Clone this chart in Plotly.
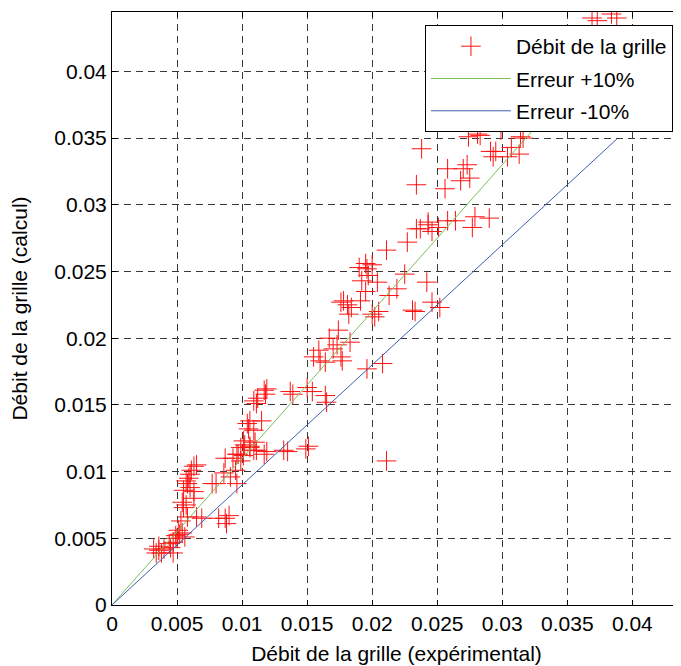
import plotly.graph_objects as go

# Experimental grid flow (x) and calculated grid flow (y)
x_exp = [
    0.0032, 0.0036, 0.0038, 0.0034, 0.0040, 0.0045, 0.0047, 0.0049, 0.0051, 0.0054,
    0.0056, 0.0047, 0.0044, 0.0053, 0.0058, 0.0065, 0.0069, 0.0082, 0.0087, 0.0088,
    0.0090, 0.0054, 0.0055, 0.0057, 0.0063, 0.0055, 0.0058, 0.0059, 0.0060, 0.0061,
    0.0063, 0.0060, 0.0063, 0.0057, 0.0077, 0.0080, 0.0086, 0.0091, 0.0096, 0.0095,
    0.0099, 0.0101, 0.0096, 0.0102, 0.0106, 0.0111, 0.0117, 0.0036, 0.0050, 0.0052,
    0.0065,
    0.0087, 0.0093, 0.0097, 0.0099, 0.0101, 0.0106, 0.0109, 0.0110, 0.0119, 0.0132,
    0.0135, 0.0149, 0.0151, 0.0104, 0.0106, 0.0105, 0.0109, 0.0115, 0.0109, 0.0111,
    0.0112, 0.0117, 0.0118, 0.0119, 0.0137, 0.0139, 0.0150, 0.0154, 0.0164, 0.0165,
    0.0159, 0.0155, 0.0160, 0.0164, 0.0167, 0.0170, 0.0174, 0.0176, 0.0177, 0.0183,
    0.0173, 0.0178, 0.0181, 0.0182, 0.0176, 0.0184, 0.0191, 0.0195, 0.0192, 0.0190,
    0.0195, 0.0196, 0.0197, 0.0200, 0.0204, 0.0200, 0.0202, 0.0205, 0.0196, 0.0208,
    0.0211, 0.0211, 0.0213, 0.0219, 0.0225, 0.0227, 0.0231, 0.0233, 0.0234, 0.0242,
    0.0243, 0.0246, 0.0252, 0.0251,
    0.0238, 0.0234, 0.0256, 0.0258, 0.0270, 0.0268, 0.0275, 0.0273, 0.0274, 0.0283,
    0.0291, 0.0293, 0.0295, 0.0307, 0.0313, 0.0316, 0.0237, 0.0243, 0.0258, 0.0264,
    0.0279, 0.0277, 0.0290, 0.0246, 0.0281, 0.0299, 0.0314, 0.0304,
    0.0369, 0.0373, 0.0384, 0.0388,
]
y_calc = [
    0.0042, 0.0041, 0.0039, 0.0039, 0.0042, 0.0043, 0.0047, 0.0052, 0.0056, 0.0054,
    0.0051, 0.0039, 0.0046, 0.0063, 0.0066, 0.0066, 0.0065, 0.0065, 0.0065, 0.0061,
    0.0067, 0.0077, 0.0073, 0.0075, 0.0080, 0.0086, 0.0091, 0.0095, 0.0098, 0.0101,
    0.0104, 0.0088, 0.0085, 0.0093, 0.0091, 0.0091, 0.0099, 0.0096, 0.0091, 0.0101,
    0.0108, 0.0112, 0.0113, 0.0120, 0.0119, 0.0116, 0.0113, 0.0044, 0.0050, 0.0053,
    0.0105,
    0.0110, 0.0110, 0.0113, 0.0118, 0.0123, 0.0118, 0.0116, 0.0122, 0.0115, 0.0116,
    0.0115, 0.0117, 0.0119, 0.0136, 0.0138, 0.0132, 0.0131, 0.0138, 0.0153, 0.0151,
    0.0155, 0.0161, 0.0158, 0.0162, 0.0160, 0.0158, 0.0163, 0.0160, 0.0157, 0.0152,
    0.0191, 0.0186, 0.0183, 0.0182, 0.0200, 0.0192, 0.0206, 0.0186, 0.0183, 0.0197,
    0.0195, 0.0228, 0.0225, 0.0218, 0.0227, 0.0223, 0.0228, 0.0235, 0.0243, 0.0253,
    0.0256, 0.0252, 0.0247, 0.0255, 0.0242, 0.0218, 0.0216, 0.0220, 0.0177, 0.0181,
    0.0108, 0.0266, 0.0232, 0.0237, 0.0248, 0.0272, 0.0221, 0.0220, 0.0282, 0.0242,
    0.0285, 0.0227, 0.0223, 0.0283,
    0.0342, 0.0315, 0.0312, 0.0327, 0.0327, 0.0318, 0.0320, 0.0330, 0.0351, 0.0352,
    0.0340, 0.0336, 0.0340, 0.0343, 0.0338, 0.0350, 0.0282, 0.0287, 0.0288, 0.0288,
    0.0291, 0.0283, 0.0290, 0.0280, 0.0353, 0.0356, 0.0351, 0.0336,
    0.0440, 0.0438, 0.0443, 0.0440,
]

# Error bands
band_x = [0.0, 0.0388]
plus_factor = 1.1
minus_factor = 0.9

tick_vals = [0, 0.005, 0.01, 0.015, 0.02, 0.025, 0.03, 0.035, 0.04]
tick_text = ["0", "0.005", "0.01", "0.015", "0.02", "0.025", "0.03", "0.035", "0.04"]

FONT = "Liberation Sans, Arial, sans-serif"
FS = 21

fig = go.Figure()
fig.add_trace(go.Scatter(
    x=x_exp, y=y_calc, mode="markers", name="Débit de la grille",
    marker=dict(symbol="cross-thin", size=14, line=dict(color="#ff1010", width=1)),
    legendgroup="a",
))
fig.add_trace(go.Scatter(
    x=band_x, y=[v * plus_factor for v in band_x], mode="lines", name="Erreur +10%",
    line=dict(color="#78c05a", width=1), legendgroup="b",
))
fig.add_trace(go.Scatter(
    x=band_x, y=[v * minus_factor for v in band_x], mode="lines", name="Erreur -10%",
    line=dict(color="#3d5fb0", width=1), legendgroup="c",
))

axis_common = dict(
    tickvals=tick_vals, ticktext=tick_text,
    showgrid=True, gridcolor="#3a3a3a", gridwidth=1, griddash="7px,5px",
    zeroline=False, showline=True, linecolor="black", linewidth=1,
    ticks="inside", ticklen=5, tickcolor="black",
    tickfont=dict(family=FONT, size=FS, color="black"),
    automargin=False,
)

fig.update_layout(
    width=673, height=658,
    margin=dict(l=104, r=0, t=4, b=61),
    paper_bgcolor="white", plot_bgcolor="white",
    font=dict(family=FONT, size=FS, color="black"),
    showlegend=True,
    legend=dict(
        x=0.55, y=0.978, xanchor="left", yanchor="top",
        bgcolor="white", bordercolor="black", borderwidth=1,
        font=dict(family=FONT, size=FS, color="black"),
        itemwidth=80, tracegroupgap=2,
    ),
    xaxis=dict(
        range=[0, 0.04374], mirror="ticks",
        title=dict(text="Débit de la grille (expérimental)", standoff=12,
                   font=dict(family=FONT, size=FS)),
        **axis_common,
    ),
    yaxis=dict(
        range=[0, 0.04445], mirror=False,
        title=dict(text="Débit de la grille (calcul)", standoff=20,
                   font=dict(family=FONT, size=FS)),
        **axis_common,
    ),
)

fig.write_html("out.html")
